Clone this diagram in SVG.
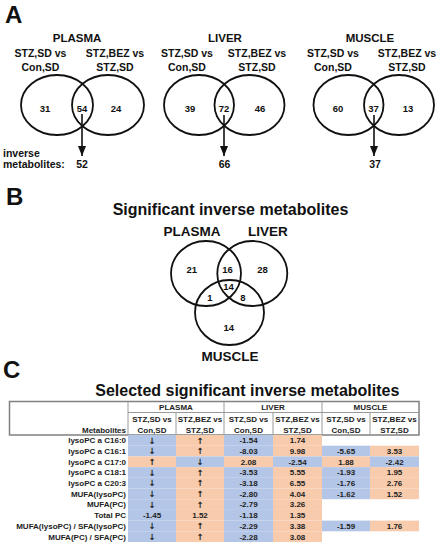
<svg xmlns="http://www.w3.org/2000/svg" width="442" height="550" viewBox="0 0 442 550">
<style>
text{font-family:"Liberation Sans",Arial,Helvetica,sans-serif;font-weight:bold;fill:#111;}
.lt{font-size:24px;}
.h1{font-size:11.5px;text-anchor:middle;}
.h2{font-size:10.5px;text-anchor:middle;}
.n{font-size:9.5px;text-anchor:middle;}
.nb{font-size:9.5px;text-anchor:middle;}
.tt{font-size:16px;text-anchor:middle;}
.bl{font-size:13.5px;text-anchor:middle;}
.v{fill:none;stroke:#111;stroke-width:1.8;}
.ar{stroke:#111;stroke-width:1.6;fill:none;}
.b{fill:#b4c6e7;}
.o{fill:#f8cbad;}
.tm{font-size:8px;text-anchor:end;fill:#222;}
.tc{font-size:8px;text-anchor:middle;fill:#222;}
.ta{font-family:"DejaVu Sans",sans-serif;font-size:8.5px;text-anchor:middle;fill:#222;}
.ob{fill:none;stroke:#808080;stroke-width:1.5;}
.ib{stroke:#9a9a9a;stroke-width:1;}
</style>
<defs>
<marker id="ah" markerWidth="10" markerHeight="8" refX="10" refY="4" orient="auto" markerUnits="userSpaceOnUse" viewBox="0 0 10 8">
<path d="M0,0 L10,4 L0,8 Z" fill="#111"/>
</marker>
</defs>
<rect width="442" height="550" fill="#fff"/>

<!-- Panel letters -->
<text class="lt" x="5" y="23">A</text>
<text class="lt" x="6" y="205">B</text>
<text class="lt" x="3" y="378">C</text>

<!-- Panel A: PLASMA -->
<g id="vennA-plasma">
<text class="h1" x="77" y="42">PLASMA</text>
<text class="h2" x="40.5" y="57">STZ,SD vs</text>
<text class="h2" x="40.5" y="71">Con,SD</text>
<text class="h2" x="115" y="57">STZ,BEZ vs</text>
<text class="h2" x="115" y="71">STZ,SD</text>
<ellipse class="v" cx="57" cy="105" rx="36" ry="30"/>
<ellipse class="v" cx="108" cy="105" rx="36" ry="30"/>
<text class="n" x="45" y="112">31</text>
<text class="n" x="82" y="112">54</text>
<text class="n" x="116" y="112">24</text>
<text x="3" y="157" style="font-size:10.5px">inverse</text>
<text x="3" y="168" style="font-size:10.5px">metabolites:</text>
<text class="h2" x="82" y="168">52</text>
</g>

<!-- Panel A: LIVER -->
<g id="vennA-liver">
<text class="h1" x="225" y="42">LIVER</text>
<text class="h2" x="187" y="57">STZ,SD vs</text>
<text class="h2" x="187" y="71">Con,SD</text>
<text class="h2" x="257" y="57">STZ,BEZ vs</text>
<text class="h2" x="257" y="71">STZ,SD</text>
<ellipse class="v" cx="199" cy="105" rx="35" ry="30"/>
<ellipse class="v" cx="249.5" cy="105" rx="35" ry="30"/>
<text class="n" x="190" y="112">39</text>
<text class="n" x="224" y="112">72</text>
<text class="n" x="260" y="112">46</text>
<text class="h2" x="224.5" y="168">66</text>
</g>

<!-- Panel A: MUSCLE -->
<g id="vennA-muscle">
<text class="h1" x="370" y="42">MUSCLE</text>
<text class="h2" x="333" y="57">STZ,SD vs</text>
<text class="h2" x="333" y="71">Con,SD</text>
<text class="h2" x="407" y="57">STZ,BEZ vs</text>
<text class="h2" x="407" y="71">STZ,SD</text>
<ellipse class="v" cx="348.5" cy="105" rx="35" ry="30"/>
<ellipse class="v" cx="399" cy="105" rx="35" ry="30"/>
<text class="n" x="338" y="112">60</text>
<text class="n" x="373.5" y="112">37</text>
<text class="n" x="408" y="112">13</text>
<text class="h2" x="375" y="168">37</text>
</g>

<!-- Connectors -->
<g id="connectors">
<line class="ar" x1="82" y1="114" x2="82" y2="156" marker-end="url(#ah)"/>
<line class="ar" x1="224" y1="115" x2="224" y2="156" marker-end="url(#ah)"/>
<line class="ar" x1="374" y1="115" x2="374" y2="156" marker-end="url(#ah)"/>
</g>

<!-- Panel B -->
<g id="vennB">
<text class="tt" x="230.5" y="215">Significant inverse metabolites</text>
<text class="bl" x="192" y="236">PLASMA</text>
<text class="bl" x="268" y="236">LIVER</text>
<text class="bl" x="230" y="360.5">MUSCLE</text>
<ellipse class="v" cx="206" cy="273.5" rx="35" ry="32.5"/>
<ellipse class="v" cx="252.3" cy="273.5" rx="35" ry="32.5"/>
<ellipse class="v" cx="229.5" cy="312.5" rx="34.5" ry="32.5"/>
<text class="nb" x="191.7" y="272.5">21</text>
<text class="nb" x="227.5" y="272.5">16</text>
<text class="nb" x="262.5" y="272.5">28</text>
<text class="nb" x="228.5" y="290">14</text>
<text class="nb" x="210" y="300.5">1</text>
<text class="nb" x="243" y="300.5">8</text>
<text class="nb" x="228.8" y="330.5">14</text>
</g>

<!-- Panel C -->
<g id="table">
<text class="tt" x="247.3" y="396">Selected significant inverse metabolites</text>
<rect class="ob" x="9.5" y="401.5" width="409.5" height="33.5"/>
<line class="ib" x1="128" y1="412.5" x2="419" y2="412.5"/>
<line class="ib" x1="128" y1="401.5" x2="128" y2="435"/>
<line class="ib" x1="224" y1="401.5" x2="224" y2="435"/>
<line class="ib" x1="322" y1="401.5" x2="322" y2="435"/>
<line class="ib" x1="176" y1="412.5" x2="176" y2="435"/>
<line class="ib" x1="273" y1="412.5" x2="273" y2="435"/>
<line class="ib" x1="370" y1="412.5" x2="370" y2="435"/>
<text class="tc" x="176" y="410">PLASMA</text>
<text class="tc" x="273" y="410">LIVER</text>
<text class="tc" x="370.5" y="410">MUSCLE</text>
<text class="tc" x="152" y="422">STZ,SD vs</text>
<text class="tc" x="152" y="432.5">Con,SD</text>
<text class="tc" x="200" y="422">STZ,BEZ vs</text>
<text class="tc" x="200" y="432.5">STZ,SD</text>
<text class="tc" x="248.5" y="422">STZ,SD vs</text>
<text class="tc" x="248.5" y="432.5">Con,SD</text>
<text class="tc" x="297.5" y="422">STZ,BEZ vs</text>
<text class="tc" x="297.5" y="432.5">STZ,SD</text>
<text class="tc" x="346" y="422">STZ,SD vs</text>
<text class="tc" x="346" y="432.5">Con,SD</text>
<text class="tc" x="394.5" y="422">STZ,BEZ vs</text>
<text class="tc" x="394.5" y="432.5">STZ,SD</text>
<text class="tm" x="126" y="432.5">Metabolites</text>

<g id="cells">
<rect class="b" x="128" y="435" width="48" height="10.7"/><rect class="o" x="176" y="435" width="48" height="10.7"/><rect class="b" x="224" y="435" width="49" height="10.7"/><rect class="o" x="273" y="435" width="49" height="10.7"/>
<rect class="b" x="128" y="445.7" width="48" height="10.7"/><rect class="o" x="176" y="445.7" width="48" height="10.7"/><rect class="b" x="224" y="445.7" width="49" height="10.7"/><rect class="o" x="273" y="445.7" width="49" height="10.7"/><rect class="b" x="322" y="445.7" width="48" height="10.7"/><rect class="o" x="370" y="445.7" width="49" height="10.7"/>
<rect class="o" x="128" y="456.4" width="48" height="10.7"/><rect class="b" x="176" y="456.4" width="48" height="10.7"/><rect class="o" x="224" y="456.4" width="49" height="10.7"/><rect class="b" x="273" y="456.4" width="49" height="10.7"/><rect class="o" x="322" y="456.4" width="48" height="10.7"/><rect class="b" x="370" y="456.4" width="49" height="10.7"/>
<rect class="b" x="128" y="467.1" width="48" height="10.7"/><rect class="o" x="176" y="467.1" width="48" height="10.7"/><rect class="b" x="224" y="467.1" width="49" height="10.7"/><rect class="o" x="273" y="467.1" width="49" height="10.7"/><rect class="b" x="322" y="467.1" width="48" height="10.7"/><rect class="o" x="370" y="467.1" width="49" height="10.7"/>
<rect class="b" x="128" y="477.8" width="48" height="10.7"/><rect class="o" x="176" y="477.8" width="48" height="10.7"/><rect class="b" x="224" y="477.8" width="49" height="10.7"/><rect class="o" x="273" y="477.8" width="49" height="10.7"/><rect class="b" x="322" y="477.8" width="48" height="10.7"/><rect class="o" x="370" y="477.8" width="49" height="10.7"/>
<rect class="b" x="128" y="488.5" width="48" height="10.7"/><rect class="o" x="176" y="488.5" width="48" height="10.7"/><rect class="b" x="224" y="488.5" width="49" height="10.7"/><rect class="o" x="273" y="488.5" width="49" height="10.7"/><rect class="b" x="322" y="488.5" width="48" height="10.7"/><rect class="o" x="370" y="488.5" width="49" height="10.7"/>
<rect class="b" x="128" y="499.2" width="48" height="10.7"/><rect class="o" x="176" y="499.2" width="48" height="10.7"/><rect class="b" x="224" y="499.2" width="49" height="10.7"/><rect class="o" x="273" y="499.2" width="49" height="10.7"/>
<rect class="b" x="128" y="509.9" width="48" height="10.7"/><rect class="o" x="176" y="509.9" width="48" height="10.7"/><rect class="b" x="224" y="509.9" width="49" height="10.7"/><rect class="o" x="273" y="509.9" width="49" height="10.7"/>
<rect class="b" x="128" y="520.6" width="48" height="10.7"/><rect class="o" x="176" y="520.6" width="48" height="10.7"/><rect class="b" x="224" y="520.6" width="49" height="10.7"/><rect class="o" x="273" y="520.6" width="49" height="10.7"/><rect class="b" x="322" y="520.6" width="48" height="10.7"/><rect class="o" x="370" y="520.6" width="49" height="10.7"/>
<rect class="b" x="128" y="531.3" width="48" height="10.7"/><rect class="o" x="176" y="531.3" width="48" height="10.7"/><rect class="b" x="224" y="531.3" width="49" height="10.7"/><rect class="o" x="273" y="531.3" width="49" height="10.7"/>
</g>

<text class="tm" x="126" y="443.2">lysoPC a C16:0</text>
<text class="tm" x="126" y="453.9">lysoPC a C16:1</text>
<text class="tm" x="126" y="464.6">lysoPC a C17:0</text>
<text class="tm" x="126" y="475.3">lysoPC a C18:1</text>
<text class="tm" x="126" y="486">lysoPC a C20:3</text>
<text class="tm" x="126" y="496.7">MUFA(lysoPC)</text>
<text class="tm" x="126" y="507.4">MUFA(PC)</text>
<text class="tm" x="126" y="518.1">Total PC</text>
<text class="tm" x="126" y="528.8">MUFA(lysoPC) / SFA(lysoPC)</text>
<text class="tm" x="126" y="539.5">MUFA(PC) / SFA(PC)</text>

<text class="ta" x="152" y="443.5">↓</text><text class="ta" x="200" y="443.5">↑</text><text class="tc" x="248.5" y="443.2">-1.54</text><text class="tc" x="297.5" y="443.2">1.74</text>
<text class="ta" x="152" y="454.2">↓</text><text class="ta" x="200" y="454.2">↑</text><text class="tc" x="248.5" y="453.9">-8.03</text><text class="tc" x="297.5" y="453.9">9.98</text><text class="tc" x="346" y="453.9">-5.65</text><text class="tc" x="394.5" y="453.9">3.53</text>
<text class="ta" x="152" y="464.9">↑</text><text class="ta" x="200" y="464.9">↓</text><text class="tc" x="248.5" y="464.6">2.08</text><text class="tc" x="297.5" y="464.6">-2.54</text><text class="tc" x="346" y="464.6">1.88</text><text class="tc" x="394.5" y="464.6">-2.42</text>
<text class="ta" x="152" y="475.6">↓</text><text class="ta" x="200" y="475.6">↑</text><text class="tc" x="248.5" y="475.3">-3.53</text><text class="tc" x="297.5" y="475.3">5.55</text><text class="tc" x="346" y="475.3">-1.93</text><text class="tc" x="394.5" y="475.3">1.95</text>
<text class="ta" x="152" y="486.3">↓</text><text class="ta" x="200" y="486.3">↑</text><text class="tc" x="248.5" y="486">-3.18</text><text class="tc" x="297.5" y="486">6.55</text><text class="tc" x="346" y="486">-1.76</text><text class="tc" x="394.5" y="486">2.76</text>
<text class="ta" x="152" y="497">↓</text><text class="ta" x="200" y="497">↑</text><text class="tc" x="248.5" y="496.7">-2.80</text><text class="tc" x="297.5" y="496.7">4.04</text><text class="tc" x="346" y="496.7">-1.62</text><text class="tc" x="394.5" y="496.7">1.52</text>
<text class="ta" x="152" y="507.7">↓</text><text class="ta" x="200" y="507.7">↑</text><text class="tc" x="248.5" y="507.4">-2.79</text><text class="tc" x="297.5" y="507.4">3.26</text>
<text class="tc" x="152" y="518.1">-1.45</text><text class="tc" x="200" y="518.1">1.52</text><text class="tc" x="248.5" y="518.1">-1.18</text><text class="tc" x="297.5" y="518.1">1.35</text>
<text class="ta" x="152" y="529.1">↓</text><text class="ta" x="200" y="529.1">↑</text><text class="tc" x="248.5" y="528.8">-2.29</text><text class="tc" x="297.5" y="528.8">3.38</text><text class="tc" x="346" y="528.8">-1.59</text><text class="tc" x="394.5" y="528.8">1.76</text>
<text class="ta" x="152" y="539.8">↓</text><text class="ta" x="200" y="539.8">↑</text><text class="tc" x="248.5" y="539.5">-2.28</text><text class="tc" x="297.5" y="539.5">3.08</text>
</g>
</svg>
